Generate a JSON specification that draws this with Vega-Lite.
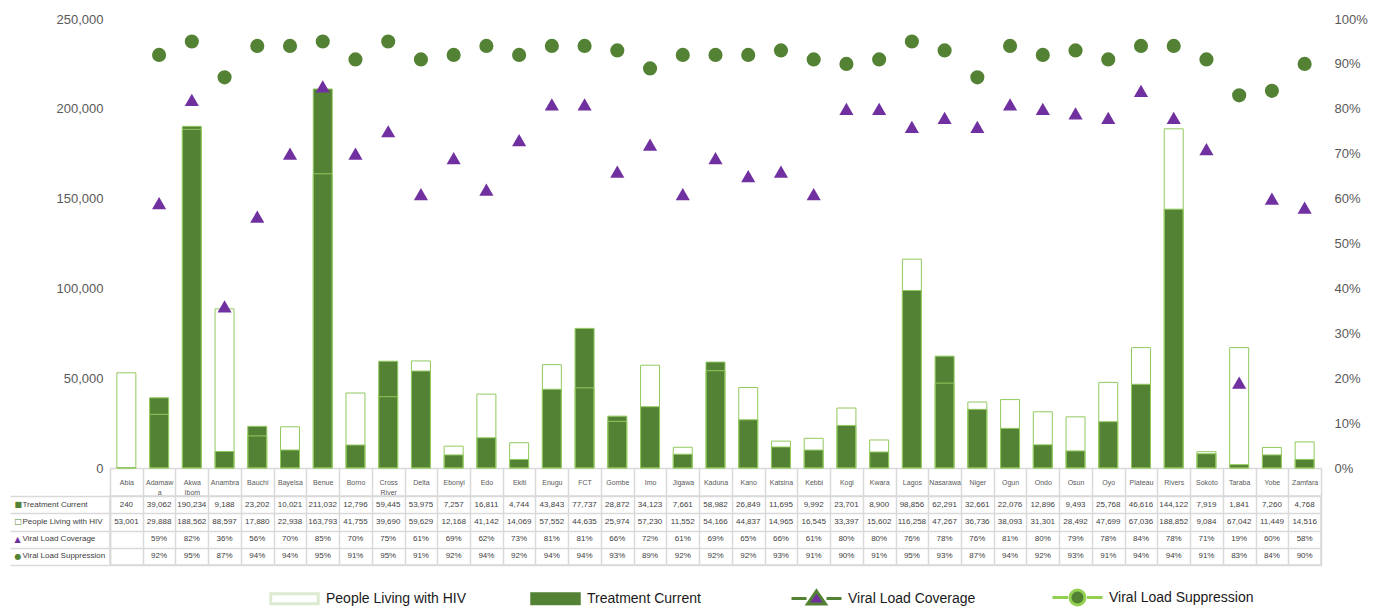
{
  "$schema": "https://vega.github.io/schema/vega-lite/v6.json",
  "padding": {"left": 8, "top": 13, "right": 5, "bottom": 0},
  "background": "white",
  "config": {"view": {"stroke": null}, "font": "Liberation Sans"},
  "datasets": {
    "states": [
      {"state": "Abia", "tc": 240, "plhiv": 53001, "vlc": null, "vls": null},
      {"state": "Adamawa", "tc": 39062, "plhiv": 29888, "vlc": 0.59, "vls": 0.92},
      {"state": "Akwa Ibom", "tc": 190234, "plhiv": 188562, "vlc": 0.82, "vls": 0.95},
      {"state": "Anambra", "tc": 9188, "plhiv": 88597, "vlc": 0.36, "vls": 0.87},
      {"state": "Bauchi", "tc": 23202, "plhiv": 17880, "vlc": 0.56, "vls": 0.94},
      {"state": "Bayelsa", "tc": 10021, "plhiv": 22938, "vlc": 0.70, "vls": 0.94},
      {"state": "Benue", "tc": 211032, "plhiv": 163793, "vlc": 0.85, "vls": 0.95},
      {"state": "Borno", "tc": 12796, "plhiv": 41755, "vlc": 0.70, "vls": 0.91},
      {"state": "Cross River", "tc": 59445, "plhiv": 39690, "vlc": 0.75, "vls": 0.95},
      {"state": "Delta", "tc": 53975, "plhiv": 59629, "vlc": 0.61, "vls": 0.91},
      {"state": "Ebonyi", "tc": 7257, "plhiv": 12168, "vlc": 0.69, "vls": 0.92},
      {"state": "Edo", "tc": 16811, "plhiv": 41142, "vlc": 0.62, "vls": 0.94},
      {"state": "Ekiti", "tc": 4744, "plhiv": 14069, "vlc": 0.73, "vls": 0.92},
      {"state": "Enugu", "tc": 43843, "plhiv": 57552, "vlc": 0.81, "vls": 0.94},
      {"state": "FCT", "tc": 77737, "plhiv": 44635, "vlc": 0.81, "vls": 0.94},
      {"state": "Gombe", "tc": 28872, "plhiv": 25974, "vlc": 0.66, "vls": 0.93},
      {"state": "Imo", "tc": 34123, "plhiv": 57230, "vlc": 0.72, "vls": 0.89},
      {"state": "Jigawa", "tc": 7661, "plhiv": 11552, "vlc": 0.61, "vls": 0.92},
      {"state": "Kaduna", "tc": 58982, "plhiv": 54166, "vlc": 0.69, "vls": 0.92},
      {"state": "Kano", "tc": 26849, "plhiv": 44837, "vlc": 0.65, "vls": 0.92},
      {"state": "Katsina", "tc": 11695, "plhiv": 14965, "vlc": 0.66, "vls": 0.93},
      {"state": "Kebbi", "tc": 9992, "plhiv": 16545, "vlc": 0.61, "vls": 0.91},
      {"state": "Kogi", "tc": 23701, "plhiv": 33397, "vlc": 0.80, "vls": 0.90},
      {"state": "Kwara", "tc": 8900, "plhiv": 15602, "vlc": 0.80, "vls": 0.91},
      {"state": "Lagos", "tc": 98856, "plhiv": 116258, "vlc": 0.76, "vls": 0.95},
      {"state": "Nasarawa", "tc": 62291, "plhiv": 47267, "vlc": 0.78, "vls": 0.93},
      {"state": "Niger", "tc": 32661, "plhiv": 36736, "vlc": 0.76, "vls": 0.87},
      {"state": "Ogun", "tc": 22076, "plhiv": 38093, "vlc": 0.81, "vls": 0.94},
      {"state": "Ondo", "tc": 12896, "plhiv": 31301, "vlc": 0.80, "vls": 0.92},
      {"state": "Osun", "tc": 9493, "plhiv": 28492, "vlc": 0.79, "vls": 0.93},
      {"state": "Oyo", "tc": 25768, "plhiv": 47699, "vlc": 0.78, "vls": 0.91},
      {"state": "Plateau", "tc": 46616, "plhiv": 67036, "vlc": 0.84, "vls": 0.94},
      {"state": "Rivers", "tc": 144122, "plhiv": 188852, "vlc": 0.78, "vls": 0.94},
      {"state": "Sokoto", "tc": 7919, "plhiv": 9084, "vlc": 0.71, "vls": 0.91},
      {"state": "Taraba", "tc": 1841, "plhiv": 67042, "vlc": 0.19, "vls": 0.83},
      {"state": "Yobe", "tc": 7260, "plhiv": 11449, "vlc": 0.60, "vls": 0.84},
      {"state": "Zamfara", "tc": 4768, "plhiv": 14516, "vlc": 0.58, "vls": 0.90}
    ]
  },
  "bounds": "flush",
  "spacing": 28,
  "vconcat": [
    {
      "width": 1211,
      "height": 449,
      "data": {"name": "states"},
      "layer": [
        {
          "transform": [{"fold": ["tc", "plhiv"], "as": ["series", "count"]}],
          "mark": {"type": "bar", "width": {"band": 0.58}, "stroke": "#92c95e", "strokeWidth": 1},
          "encoding": {
            "x": {
              "field": "state", "type": "nominal", "sort": null,
              "scale": {"type": "band", "paddingInner": 0, "paddingOuter": 0},
              "axis": {
                "title": null, "labelAngle": 0, "tickBand": "extent", "tickSize": 28,
                "tickColor": "#d9d9d9", "tickWidth": 1.5, "domainColor": "#d9d9d9", "domainWidth": 1.5,
                "labelFontSize": 7, "labelColor": "#595959", "labelBaseline": "middle",
                "labelPadding": -14, "labelLineHeight": 10, "labelOverlap": false,
                "labelExpr": "datum.value == 'Adamawa' ? ['Adamaw', 'a'] : datum.value == 'Akwa Ibom' ? ['Akwa', 'Ibom'] : datum.value == 'Cross River' ? ['Cross', 'River'] : datum.value"
              }
            },
            "y": {
              "field": "count", "type": "quantitative", "stack": null,
              "scale": {"domain": [0, 250000]},
              "axis": {
                "title": null, "values": [0, 50000, 100000, 150000, 200000, 250000], "format": ",.0f",
                "ticks": false, "domain": false, "grid": false,
                "labelFontSize": 13, "labelColor": "#595959", "labelPadding": 7
              }
            },
            "fill": {
              "field": "series", "type": "nominal",
              "scale": {"domain": ["plhiv", "tc", "vlc", "vls"], "range": ["transparent", "#548235", "#7030a0", "#548235"]},
              "legend": {
                "orient": "none", "legendX": 158, "legendY": 552, "direction": "horizontal",
                "columns": 4, "gridAlign": "all", "columnPadding": 53, "title": null,
                "symbolSize": 2500, "symbolStrokeWidth": 3, "labelFontSize": 14, "labelColor": "#1a1a1a",
                "labelOffset": 5, "labelLimit": 300,
                "labelExpr": "{'plhiv': 'People Living with HIV', 'tc': 'Treatment Current', 'vlc': 'Viral Load Coverage', 'vls': 'Viral Load Suppression'}[datum.value]",
                "encoding": {
                  "symbols": {
                    "shape": {"value": {"expr": "datum.value === 'vlc' ? 'M-1,0H-0.4M0.4,0H1M0,-0.3L0.36,0.22H-0.36Z' : datum.value === 'vls' ? 'M-1,0H-0.38M0.38,0H1M-0.3,0A0.3,0.3 0 1,0 0.3,0A0.3,0.3 0 1,0 -0.3,0Z' : 'M-0.95,-0.2H0.95V0.2H-0.95Z'"}},
                    "fill": {"value": {"expr": "{'plhiv': '#f7fbf3', 'tc': '#548235', 'vlc': '#92d050', 'vls': '#548235'}[datum.value]"}},
                    "stroke": {"value": {"expr": "{'plhiv': '#dcebd0', 'tc': '#548235', 'vlc': '#548235', 'vls': '#92d050'}[datum.value]"}},
                    "opacity": {"value": 1}
                  }
                }
              }
            }
          }
        },
        {
          "transform": [
            {"fold": ["vlc", "vls"], "as": ["series", "pct"]},
            {"filter": "datum.pct != null"}
          ],
          "mark": {"type": "point", "filled": true, "size": 200, "opacity": 1},
          "encoding": {
            "x": {"field": "state", "type": "nominal", "sort": null, "scale": {"type": "band"}},
            "y": {
              "field": "pct", "type": "quantitative",
              "scale": {"domain": [0, 1]},
              "axis": {
                "orient": "right", "title": null, "format": ".0%",
                "values": [0, 0.1, 0.2, 0.3, 0.4, 0.5, 0.6, 0.7, 0.8, 0.9, 1],
                "ticks": false, "domain": false, "grid": false,
                "labelFontSize": 13, "labelColor": "#595959", "labelPadding": 13
              }
            },
            "fill": {"field": "series", "type": "nominal"},
            "shape": {
              "field": "series", "type": "nominal",
              "scale": {"domain": ["vlc", "vls"], "range": ["triangle-up", "circle"]},
              "legend": null
            }
          }
        }
      ],
      "resolve": {"scale": {"y": "independent"}}
    },
    {
      "width": 1211,
      "height": 69,
      "data": {"name": "states"},
      "view": {"stroke": "#d9d9d9", "strokeWidth": 1.5},
      "layer": [
        {
          "transform": [{"fold": ["tc", "plhiv"], "as": ["row", "count"]}],
          "mark": {"type": "text", "fontSize": 8, "color": "#404040"},
          "encoding": {
            "x": {
              "field": "state", "type": "nominal", "sort": null,
              "scale": {"type": "band", "paddingInner": 0, "paddingOuter": 0},
              "axis": {
                "title": null, "labels": false, "ticks": false, "domain": false,
                "grid": true, "tickBand": "extent", "gridColor": "#d9d9d9", "gridWidth": 1.5
              }
            },
            "y": {
              "field": "row", "type": "nominal",
              "scale": {"type": "band", "domain": ["tc", "plhiv", "vlc", "vls"], "paddingInner": 0, "paddingOuter": 0},
              "axis": {
                "orient": "left", "title": null,
                "labelExpr": "{'tc': '■', 'plhiv': '□', 'vlc': '▲', 'vls': '●'}[datum.value]",
                "labelFont": "DejaVu Sans", "labelFontSize": 8, "labelAlign": "left", "labelPadding": -4,
                "labelColor": {"condition": {"test": "datum.value === 'vlc'", "value": "#7030a0"}, "value": "#548235"},
                "tickBand": "extent", "tickSize": 100, "tickColor": "#d9d9d9", "tickWidth": 1.5,
                "grid": true, "gridColor": "#d9d9d9", "gridWidth": 1.5,
                "domain": true, "domainColor": "#d9d9d9", "domainWidth": 1.5
              }
            },
            "text": {"field": "count", "type": "quantitative", "format": ",.0f"}
          }
        },
        {
          "transform": [
            {"fold": ["vlc", "vls"], "as": ["row", "pct"]},
            {"filter": "datum.pct != null"}
          ],
          "mark": {"type": "text", "fontSize": 8, "color": "#404040"},
          "encoding": {
            "x": {"field": "state", "type": "nominal", "sort": null, "scale": {"type": "band"}},
            "y": {
              "field": "row", "type": "nominal",
              "scale": {"type": "band", "domain": ["tc", "plhiv", "vlc", "vls"], "paddingInner": 0, "paddingOuter": 0},
              "axis": {
                "orient": "left", "title": null,
                "labelExpr": "{'tc': 'Treatment Current', 'plhiv': 'People Living with HIV', 'vlc': 'Viral Load Coverage', 'vls': 'Viral Load Suppression'}[datum.value]",
                "labelFontSize": 8, "labelAlign": "left", "labelPadding": 88, "labelColor": "#404040", "labelLimit": 0,
                "ticks": false, "grid": false, "domain": false
              }
            },
            "text": {"field": "pct", "type": "quantitative", "format": ".0%"}
          }
        }
      ],
      "resolve": {"scale": {"y": "independent"}}
    }
  ]
}
